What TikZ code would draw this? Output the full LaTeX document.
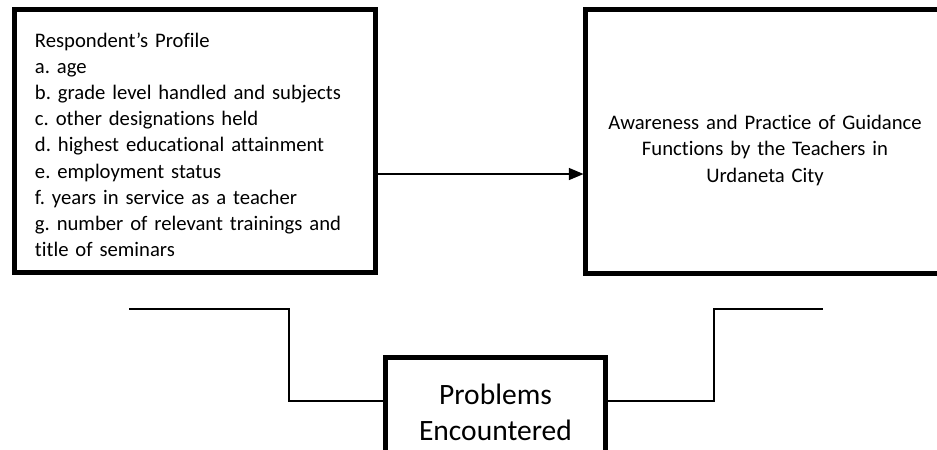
\documentclass[tikz,border=0pt]{standalone}
\usepackage{fontspec}
\setmainfont[Ligatures=NoCommon]{Carlito}
\usepackage{tikz}
\usetikzlibrary{arrows,positioning,calc}
\frenchspacing

\tikzset{
  box/.style={draw,line width=0.125cm,inner sep=0pt},
  link/.style={draw,line width=0.05cm}
}

\begin{document}
\begin{tikzpicture}[x=0.025cm,y=-0.025cm]
    \clip (0,0) rectangle (937,449);
    \node [box,minimum width=9.04cm,minimum height=6.55cm,text width=8cm,align=left,font=\fontsize{14.7}{18.6}\selectfont] (profile) at (195,141) [] {\rule{0pt}{0.55cm}Respondent’s Profile\\ a. age\\ b. grade level handled and subjects\\ c. other designations held\\ d. highest educational attainment\\ e. employment status\\ f. years in service as a teacher\\ g. number of relevant trainings and\\ title of seminars};
    \node [box,minimum width=8.95cm,minimum height=6.575cm,text width=8.25cm,align=center,font=\fontsize{14.7}{18.8}\selectfont] (awareness) at (765,141.5) [] {\rule{0pt}{0.8cm}Awareness and Practice of Guidance\\ Functions by the Teachers in\\ Urdaneta City};
    \node [box,minimum width=5.5cm,minimum height=2.7cm,align=center,font=\fontsize{21}{25.6}\selectfont] (problems) at (495.5,412) [] {Problems\\ Encountered};
    \coordinate (lstart) at (129,309);
    \coordinate (lbend) at (289,309);
    \coordinate (rbend) at (714,309);
    \coordinate (rend) at (823,309);
    \draw [link,-triangle 45] ([yshift=-0.825cm]profile.east) to ([yshift=-0.825cm]profile.east -| awareness.west);
    \draw [link] (lstart) -- (lbend) |- ([yshift=0.275cm]problems.west);
    \draw [link] ([yshift=0.275cm]problems.east) -| (rbend) -- (rend);
\end{tikzpicture}
\end{document}
